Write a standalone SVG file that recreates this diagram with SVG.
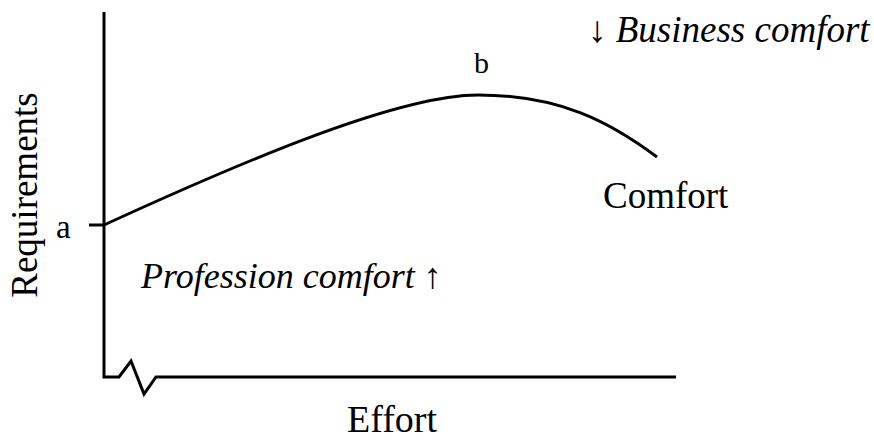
<svg xmlns="http://www.w3.org/2000/svg" width="874" height="444" viewBox="0 0 874 444">
<style>
.ln{fill:none;stroke:#000;stroke-width:3;stroke-linejoin:miter}
.t{font-family:"Liberation Serif","Times New Roman",serif;fill:#000}
.i{font-style:italic}
</style>
<rect width="874" height="444" fill="#fff"/>
<g id="connectors">
<path class="ln" d="M104,12 V377 H119 L131,361 L144,394 L156,377 H676"/>
<path class="ln" d="M89,225 H104"/>
<path class="ln" d="M104,225 C250,158 400,95 478,95 C560,95 610,122 657,157"/>
</g>
<g id="axis-y"><text class="t" font-size="37" transform="translate(37,195) rotate(-90)" text-anchor="middle">Requirements</text></g>
<g id="axis-x"><text class="t" font-size="38" x="347" y="432">Effort</text></g>
<g id="label-a"><text class="t" font-size="33" x="56" y="238">a</text></g>
<g id="label-b"><text class="t" font-size="30" x="474" y="73">b</text></g>
<g id="label-comfort"><text class="t" font-size="37" x="603" y="208">Comfort</text></g>
<g id="label-business"><text class="t" font-size="37" x="588" y="42">↓ <tspan class="i">Business comfort</tspan></text></g>
<g id="label-profession"><text class="t" font-size="36" x="141" y="288"><tspan class="i">Profession comfort</tspan> ↑</text></g>
</svg>
